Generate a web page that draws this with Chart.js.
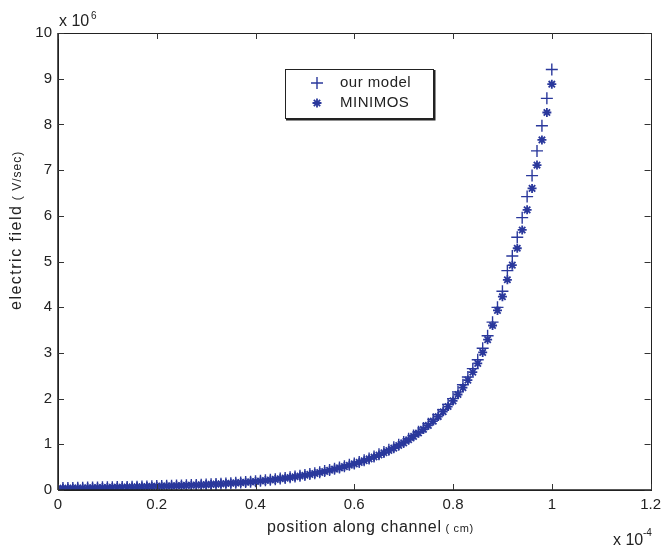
<!DOCTYPE html>
<html>
<head>
<meta charset="utf-8">
<script src="https://cdn.jsdelivr.net/npm/chart.js@4.4.1/dist/chart.umd.min.js"></script>
<style>
html,body{margin:0;padding:0;background:#fff;}
#wrap{width:667px;height:552px;position:relative;}
</style>
</head>
<body>
<div id="wrap"><canvas id="c"></canvas></div>
<script>
// position along channel (x 10^-4 cm)
const positions = [0.00,0.01,0.02,0.03,0.04,0.05,0.06,0.07,0.08,0.09,
0.10,0.11,0.12,0.13,0.14,0.15,0.16,0.17,0.18,0.19,
0.20,0.21,0.22,0.23,0.24,0.25,0.26,0.27,0.28,0.29,
0.30,0.31,0.32,0.33,0.34,0.35,0.36,0.37,0.38,0.39,
0.40,0.41,0.42,0.43,0.44,0.45,0.46,0.47,0.48,0.49,
0.50,0.51,0.52,0.53,0.54,0.55,0.56,0.57,0.58,0.59,
0.60,0.61,0.62,0.63,0.64,0.65,0.66,0.67,0.68,0.69,
0.70,0.71,0.72,0.73,0.74,0.75,0.76,0.77,0.78,0.79,
0.80,0.81,0.82,0.83,0.84,0.85,0.86,0.87,0.88,0.89,
0.90,0.91,0.92,0.93,0.94,0.95,0.96,0.97,0.98,0.99,1.00];

// electric field (x 10^6)
const ourModel = [0.040,0.042,0.044,0.046,0.048,0.050,0.052,0.054,0.056,0.058,
0.060,0.062,0.064,0.066,0.068,0.070,0.073,0.076,0.079,0.082,
0.085,0.088,0.091,0.094,0.097,0.100,0.104,0.108,0.112,0.116,
0.120,0.126,0.132,0.138,0.144,0.150,0.157,0.165,0.173,0.181,
0.190,0.201,0.212,0.224,0.237,0.250,0.265,0.280,0.296,0.313,
0.330,0.349,0.369,0.390,0.414,0.440,0.466,0.493,0.521,0.550,
0.580,0.615,0.652,0.692,0.735,0.780,0.829,0.880,0.934,0.991,
1.050,1.120,1.195,1.274,1.359,1.450,1.546,1.648,1.757,1.873,
2.000,2.147,2.304,2.473,2.655,2.850,3.101,3.375,3.673,3.997,
4.350,4.800,5.120,5.530,5.960,6.420,6.880,7.420,7.970,8.570,9.200];

const minimos = [0.035,0.037,0.039,0.041,0.043,0.045,0.047,0.049,0.051,0.053,
0.055,0.057,0.059,0.061,0.063,0.066,0.069,0.072,0.075,0.078,
0.081,0.084,0.087,0.090,0.093,0.097,0.101,0.105,0.109,0.113,
0.118,0.123,0.129,0.135,0.141,0.148,0.155,0.162,0.170,0.178,
0.187,0.197,0.208,0.220,0.232,0.245,0.259,0.274,0.290,0.306,
0.323,0.342,0.362,0.383,0.406,0.431,0.457,0.484,0.512,0.541,
0.571,0.605,0.641,0.680,0.722,0.766,0.814,0.864,0.917,0.973,
1.032,1.100,1.172,1.248,1.328,1.415,1.508,1.607,1.713,1.826,
1.950,2.090,2.240,2.405,2.580,2.770,3.010,3.290,3.600,3.930,
4.230,4.600,4.920,5.290,5.690,6.130,6.600,7.110,7.660,8.260,8.880];

const xTicks = [0,0.2,0.4,0.6,0.8,1,1.2];
const yTicks = [0,1,2,3,4,5,6,7,8,9,10];
const xTickLabels = ['0','0.2','0.4','0.6','0.8','1','1.2'];
const yTickLabels = ['0','1','2','3','4','5','6','7','8','9','10'];
const seriesNames = ['our model','MINIMOS'];

const MARK = '#2a389c';
const FONT = '"Liberation Sans", Arial, sans-serif';

function pts(ys){ return positions.map((x,i)=>({x:x,y:ys[i]})); }

const overlay = {
  id:'overlay',
  afterDraw(chart){
    const ctx = chart.ctx, a = chart.chartArea;
    const xs = chart.scales.x, ys = chart.scales.y;
    ctx.save();
    // frame
    ctx.strokeStyle = '#222';
    ctx.lineWidth = 1;
    ctx.strokeRect(Math.round(a.left)+0.5, Math.round(a.top)+0.5, Math.round(a.right-a.left), Math.round(a.bottom-a.top));
    ctx.lineWidth = 1.5;
    ctx.beginPath();
    ctx.moveTo(a.left, a.bottom); ctx.lineTo(a.right+1, a.bottom);
    ctx.moveTo(a.left, a.top); ctx.lineTo(a.left, a.bottom);
    ctx.stroke();
    // inward ticks
    ctx.lineWidth = 1;
    ctx.strokeStyle = '#333';
    const TL = 6;
    ctx.beginPath();
    xTicks.forEach(v=>{
      const px = Math.round(xs.getPixelForValue(v))+0.5;
      ctx.moveTo(px, a.bottom); ctx.lineTo(px, a.bottom-TL);
      ctx.moveTo(px, a.top); ctx.lineTo(px, a.top+TL);
    });
    yTicks.forEach(v=>{
      const py = Math.round(ys.getPixelForValue(v))+0.5;
      ctx.moveTo(a.left, py); ctx.lineTo(a.left+TL, py);
      ctx.moveTo(a.right, py); ctx.lineTo(a.right-TL, py);
    });
    ctx.stroke();

    ctx.fillStyle = '#222';
    ctx.textBaseline = 'alphabetic';
    // exponent labels
    ctx.textAlign = 'left';
    ctx.font = '16px ' + FONT;
    ctx.fillText('x 10', a.left+1, 26);
    ctx.font = '10px ' + FONT;
    ctx.fillText('6', 91, 19);
    ctx.font = '16px ' + FONT;
    ctx.fillText('x 10', 613, 545);
    ctx.font = '10px ' + FONT;
    ctx.fillText('-4', 643, 536);

    // x title
    ctx.letterSpacing = '0.7px';
    ctx.font = '16px ' + FONT;
    const t1 = 'position along channel';
    const w1 = ctx.measureText(t1).width;
    ctx.fillText(t1, 267, 532);
    ctx.font = '11px ' + FONT;
    ctx.fillText(' ( cm)', 267 + w1, 532);

    // y title
    ctx.save();
    ctx.translate(21, 310);
    ctx.rotate(-Math.PI/2);
    ctx.letterSpacing = '1.5px';
    ctx.font = '16px ' + FONT;
    const y1 = 'electric field';
    const yw1 = ctx.measureText(y1).width;
    ctx.fillText(y1, 0, 0);
    ctx.letterSpacing = '1px';
    ctx.font = '12px ' + FONT;
    ctx.fillText(' ( V/sec)', yw1, 0);
    ctx.restore();
    ctx.letterSpacing = '0px';

    // legend
    const L = 285, T = 69, W = 148, H = 49;
    ctx.fillStyle = '#fff';
    ctx.fillRect(L, T, W, H);
    ctx.strokeStyle = '#222';
    ctx.lineWidth = 1;
    ctx.strokeRect(L+0.5, T+0.5, W, H);
    ctx.lineWidth = 2;
    ctx.beginPath();
    ctx.moveTo(L+1, T+H+1.5); ctx.lineTo(L+W+1.5, T+H+1.5); ctx.lineTo(L+W+1.5, T+1);
    ctx.stroke();
    const ds = chart.data.datasets;
    const rowY = [83, 103];
    for (let i=0;i<2;i++){
      ctx.strokeStyle = MARK; ctx.fillStyle = MARK;
      ctx.lineWidth = ds[i].borderWidth;
      Chart.helpers.drawPoint(ctx, {pointStyle: ds[i].pointStyle, radius: ds[i].pointRadius, rotation:0, borderWidth: ds[i].borderWidth}, 317, rowY[i]);
      ctx.fillStyle = '#222';
      ctx.letterSpacing = '0.5px';
      ctx.font = '15px ' + FONT;
      ctx.textBaseline = 'middle';
      ctx.fillText(seriesNames[i], 340, rowY[i]);
    }
    ctx.restore();
  }
};

new Chart(document.getElementById('c'), {
  type: 'scatter',
  data: {
    datasets: [
      { label: seriesNames[0], data: pts(ourModel), pointStyle: 'cross', pointRadius: 6, borderWidth: 1.4,
        borderColor: MARK, backgroundColor: MARK, showLine: false, pointHoverRadius: 6 },
      { label: seriesNames[1], data: pts(minimos), pointStyle: 'star', pointRadius: 4.5, borderWidth: 1.8,
        borderColor: MARK, backgroundColor: MARK, showLine: false, pointHoverRadius: 4.5 }
    ]
  },
  options: {
    responsive: true,
    maintainAspectRatio: false,
    animation: false,
    events: [],
    layout: { padding: { left: 0, right: 12, top: 33, bottom: 0 } },
    plugins: { legend: { display: false }, tooltip: { enabled: false } },
    scales: {
      x: {
        type: 'linear', min: 0, max: 1.2,
        afterBuildTicks(s){ s.ticks = xTicks.map(v=>({value:v})); },
        afterFit(s){ s.height = 62; },
        grid: { display: false, drawTicks: false },
        border: { display: false },
        ticks: { padding: 6, color: '#222', font: { family: FONT, size: 15 }, maxRotation: 0,
          callback(v){ const i = xTicks.indexOf(v); return i>=0 ? xTickLabels[i] : ''; } }
      },
      y: {
        type: 'linear', min: 0, max: 10,
        afterBuildTicks(s){ s.ticks = yTicks.map(v=>({value:v})); },
        afterFit(s){ s.width = 58; },
        grid: { display: false, drawTicks: false },
        border: { display: false },
        ticks: { padding: 6, color: '#222', font: { family: FONT, size: 15 },
          callback(v){ const i = yTicks.indexOf(v); return i>=0 ? yTickLabels[i] : ''; } }
      }
    }
  },
  plugins: [overlay]
});
</script>
</body>
</html>
